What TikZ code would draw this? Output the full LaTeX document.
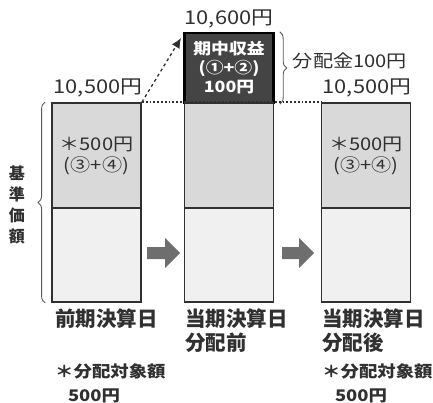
\documentclass[tikz,border=0pt]{standalone}
\usepackage{fontspec}
\setmainfont{Noto Sans CJK JP}
\newfontfamily\widefont{Noto Sans CJK JP}[FakeStretch=1.15]
\usetikzlibrary{decorations.pathreplacing,arrows.meta}
\definecolor{ink}{HTML}{303030}
\definecolor{upfill}{HTML}{D9D9D9}
\definecolor{lowfill}{HTML}{F0F0F0}
\definecolor{darkfill}{HTML}{444444}
\definecolor{arrowgray}{HTML}{6E6E6E}
\begin{document}
\begin{tikzpicture}[x=1pt,y=-1pt,
  boxbase/.style={draw=ink,line width=1.8pt,inner sep=0pt,text=ink,align=center,font=\widefont\fontsize{17.5}{21}\selectfont},
  upperbox/.style={boxbase,fill=upfill,minimum width=89pt,minimum height=105pt},
  lowerbox/.style={boxbase,fill=lowfill,minimum width=89pt,minimum height=94pt},
  darkbox/.style={draw=black,line width=2.4pt,fill=darkfill,text=white,inner sep=0pt,align=center,minimum width=89pt,minimum height=70pt,font=\widefont\bfseries\fontsize{15.5}{19}\selectfont},
  pricelbl/.style={text=ink,inner sep=0pt,font=\widefont\fontsize{19}{21}\selectfont},
  datelbl/.style={text=ink,inner sep=0pt,align=left,anchor=north west,font=\bfseries\fontsize{20.5}{24}\selectfont},
  notelbl/.style={text=ink,inner sep=0pt,align=left,anchor=north west,font=\widefont\bfseries\fontsize{16}{24}\selectfont},
  bracestyle/.style={decorate,decoration={brace,amplitude=7pt},draw=ink!80,line width=0.9pt},
  blockarrow/.style={fill=arrowgray,draw=none}
]
\useasboundingbox (0,0) rectangle (433,403);

% left column
\node[upperbox] (lu) at (96.5,155.5) {＊500円\\(③+④)};
\node[lowerbox] (ll) at (96.5,255) {};
% middle column
\node[darkbox] (md) at (229,68) {期中収益\\(①+②)\\100円};
\node[upperbox] (mu) at (229,155.5) {};
\node[lowerbox] (ml) at (229,255) {};
% right column
\node[upperbox] (ru) at (366,155.5) {＊500円\\(③+④)};
\node[lowerbox] (rl) at (366,255) {};

% price labels
\node[pricelbl] (p1) at (98,88) {10,500円};
\node[pricelbl] (p2) at (229,19) {10,600円};
\node[pricelbl] (p3) at (367,88) {10,500円};

% dotted level line
\draw[dotted,line width=1.8pt,ink] (lu.north east) -- (ru.north west);
% dashed arrow
\coordinate (tip) at (181,38);
\draw[dashed,line width=1.3pt,ink,-{Latex[length=10pt,width=9pt]}] (lu.north east) -- (tip);

% brace right of dark box
\draw[bracestyle] ([xshift=5pt]md.north east) -- ([xshift=5pt]md.south east) coordinate[midway,xshift=9pt] (bt);
\node[pricelbl,anchor=west,font=\widefont\fontsize{17.5}{19}\selectfont] (dist) at ([xshift=4pt,yshift=7pt]bt) {分配金100円};

% left brace
\draw[bracestyle] ([xshift=-6pt]ll.south west) -- ([xshift=-6pt]lu.north west) coordinate[midway,xshift=-9pt] (lbt);
\node[text=ink,inner sep=0pt,align=center,font=\bfseries\fontsize{16}{21}\selectfont] (kijun) at (17,205) {基\\準\\価\\額};

% block arrows
\fill[blockarrow] (147,247) -- (165,247) -- (165,238) -- (180,253) -- (165,268) -- (165,259) -- (147,259) -- cycle;
\fill[blockarrow] (282,247) -- (299,247) -- (299,238) -- (314,253) -- (299,268) -- (299,259) -- (282,259) -- cycle;

% date labels
\node[datelbl] (d1) at (55,309) {前期決算日};
\node[datelbl] (d2) at (185,309) {当期決算日\\分配前};
\node[datelbl] (d3) at (322,309) {当期決算日\\分配後};

% notes
\node[notelbl] (n1) at (55,364) {＊分配対象額\\\hspace*{0.8em}500円};
\node[notelbl] (n3) at (322,364) {＊分配対象額\\\hspace*{0.8em}500円};
\end{tikzpicture}
\end{document}
